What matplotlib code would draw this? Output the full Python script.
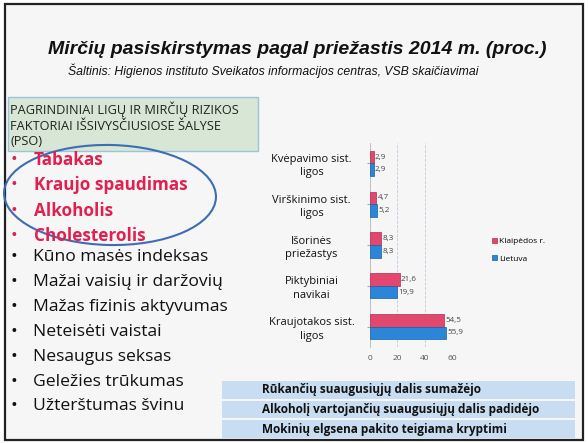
import matplotlib
matplotlib.use("Agg")
import matplotlib.pyplot as plt
from matplotlib.patches import Rectangle, Ellipse
import numpy as np

categories = ["Kvėpavimo sist.\nligos", "Virškinimo sist.\nligos", "Išorinės\npriežastys",
              "Piktybiniai\nnavikai", "Kraujotakos sist.\nligos"]
klaipeda = [2.9, 4.7, 8.3, 21.6, 54.5]
lietuva = [2.9, 5.2, 8.3, 19.9, 55.9]
series_names = ["Klaipėdos r.", "Lietuva"]
xticks = [0, 20, 40, 60]

title = "Mirčių pasiskirstymas pagal priežastis 2014 m. (proc.)"
subtitle = "Šaltinis: Higienos instituto Sveikatos informacijos centras, VSB skaičiavimai"
box_text = "PAGRINDINIAI LIGŲ IR MIRČIŲ RIZIKOS\nFAKTORIAI IŠSIVYSČIUSIOSE ŠALYSE\n(PSO)"
red_items = ["Tabakas", "Kraujo spaudimas", "Alkoholis", "Cholesterolis"]
black_items = ["Kūno masės indeksas", "Mažai vaisių ir daržovių", "Mažas fizinis aktyvumas",
               "Neteisėti vaistai", "Nesaugus seksas", "Geležies trūkumas", "Užterštumas švinu"]
notes = ["Rūkančių suaugusiųjų dalis sumažėjo",
         "Alkoholį vartojančių suaugusiųjų dalis padidėjo",
         "Mokinių elgsena pakito teigiama kryptimi"]

W, H = 588, 443
fig = plt.figure(figsize=(W / 100, H / 100), dpi=100)
fig.patch.set_facecolor("white")

def fx(x): return x / W
def fy(y): return 1 - y / H

# slide background and border
fig.patches.append(Rectangle((fx(5), fy(440)), fx(578), 436 / H, transform=fig.transFigure,
                             facecolor="#f6f6f6", edgecolor="#222222", lw=1.6, zorder=-5))

FONT = "Open Sans"
# title
fig.text(fx(297), fy(50), title, ha="center", va="center", fontsize=14, fontweight="bold",
         style="italic", family="Liberation Sans", color="#111111")
fig.text(fx(273), fy(71), subtitle, ha="center", va="center", fontsize=8.8, style="italic",
         family="Liberation Sans", color="#111111")

# green box
fig.patches.append(Rectangle((fx(8), fy(151)), fx(250), 54 / H, transform=fig.transFigure,
                             facecolor="#d8e6d5", edgecolor="#9cc3dc", lw=1, zorder=-4))
fig.text(fx(10), fy(125), box_text, ha="left", va="center", fontsize=9.2, family=FONT,
         color="#222222", linespacing=1.25)

red = "#e0204f"
for i, t in enumerate(red_items):
    y = 160 + i * 25.3
    fig.text(fx(11), fy(y), "•", ha="left", va="center", fontsize=13, color=red, family=FONT)
    fig.text(fx(34), fy(y), t, ha="left", va="center", fontsize=12.3, color=red,
             fontweight="bold", family=FONT)
for i, t in enumerate(black_items):
    y = 257 + i * 24.9
    fig.text(fx(11), fy(y), "•", ha="left", va="center", fontsize=13, color="#111111", family=FONT)
    fig.text(fx(33), fy(y), t, ha="left", va="center", fontsize=12.6, color="#111111", family=FONT)

fig.patches.append(Ellipse((fx(110), fy(195)), fx(212), 100 / H, transform=fig.transFigure,
                           facecolor="none", edgecolor="#3d6db5", lw=1.5, angle=-2, zorder=3))

# notes boxes
for i, t in enumerate(notes):
    y0 = 381 + i * 19.5
    fig.patches.append(Rectangle((fx(222), fy(y0 + 17.5)), fx(353), 17.5 / H,
                                 transform=fig.transFigure, facecolor="#c9ddf2", edgecolor="none",
                                 zorder=-3))
    fig.text(fx(262), fy(y0 + 9), t, ha="left", va="center", fontsize=8.5, fontweight="bold",
             family=FONT, color="#111111")

# chart
ax = fig.add_axes([fx(370), fy(347), fx(452 - 370), (347 - 143) / H])
ax.set_zorder(5)
ax.set_facecolor("none")
n = len(categories)
ypos = np.arange(n)
bh = 0.31
ax.barh(ypos - bh / 2, klaipeda, height=bh, color="#e2476d", edgecolor="#b52a4e", lw=0.5,
        label=series_names[0], zorder=3)
ax.barh(ypos + bh / 2, lietuva, height=bh, color="#2b86d9", edgecolor="#1b5fa5", lw=0.5,
        label=series_names[1], zorder=3)
for i in range(n):
    ax.text(klaipeda[i] + 0.8, ypos[i] - bh / 2, f"{klaipeda[i]:.1f}".replace(".", ","),
            va="center", ha="left", fontsize=5.8, color="#444444", family=FONT)
    ax.text(lietuva[i] + 0.8, ypos[i] + bh / 2, f"{lietuva[i]:.1f}".replace(".", ","),
            va="center", ha="left", fontsize=5.8, color="#444444", family=FONT)
ax.set_ylim(n - 0.5, -0.5)
ax.set_xlim(0, 60)
ax.set_xticks(xticks)
ax.set_xticklabels([str(v) for v in xticks], fontsize=6, color="#555555", family=FONT)
ax.set_yticks(ypos)
ax.set_yticklabels(categories, fontsize=8, color="#111111", family=FONT, ha="center",
                   linespacing=1.3)
ax.tick_params(axis="y", pad=40, length=2, color="#aaaaaa")
ax.tick_params(axis="x", length=0, pad=6)
ax.grid(axis="x", color="#c8c8e0", lw=0.6, ls="--", zorder=0)
for s in ["top", "right", "bottom"]:
    ax.spines[s].set_visible(False)
ax.spines["left"].set_color("#bbbbbb")
ax.spines["left"].set_linewidth(0.6)

leg = fig.legend(loc="upper left", bbox_to_anchor=(fx(484), fy(230)), frameon=False,
                 handlelength=0.6, handleheight=0.6, handletextpad=0.3,
                 labelspacing=1.2, prop={"family": FONT, "size": 6})

fig.savefig("out.png", dpi=100, facecolor="white")
